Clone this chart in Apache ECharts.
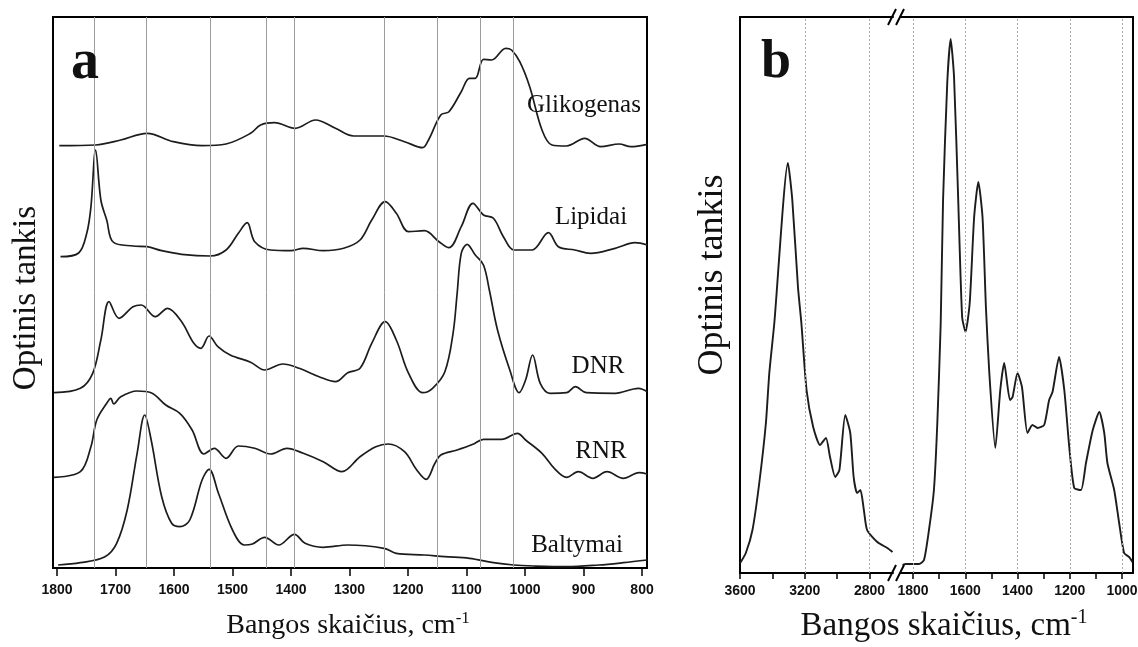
<!DOCTYPE html>
<html>
<head>
<meta charset="utf-8">
<script src="https://cdn.jsdelivr.net/npm/echarts@6/dist/echarts.min.js"></script>
<style>
html, body { margin: 0; padding: 0; background: #fff; }
#chart { width: 1138px; height: 647px; }
</style>
</head>
<body>
<div id="chart"></div>
<script>
// ---- Panel a: FTIR spectra of cell components, [wavenumber cm-1, relative absorbance] ----
const glikogenas = [[1796,0.3],[1734,1],[1691,6],[1646,12.7],[1601,4.3],[1552,0.3],[1511,2],[1469,12.7],[1452,21],[1428,23.3],[1393,17.7],[1358,26],[1324,17.7],[1293,10],[1241,10],[1206,4.3],[1175,-1.7],[1165,6],[1144,31],[1130,34.3],[1109,54.3],[1095,67.7],[1085,67.7],[1071,86.7],[1057,86],[1033,97.7],[1023,96],[1009,84.3],[992,59.3],[971,16],[954,1],[929,0],[898,7.7],[871,-0.7],[839,2],[819,-0.7],[791,1.7]];
const lipidai = [[1794,-1.7],[1763,2],[1749,22],[1742,48],[1734,105],[1725,55],[1715,35],[1704,13],[1670,9],[1646,8.3],[1621,4.3],[1587,0.7],[1538,-1],[1511,5],[1490,21.7],[1475,32.3],[1462,13.3],[1435,5],[1400,4.3],[1379,6.7],[1345,4.3],[1310,6.7],[1282,15],[1262,35],[1239,53.3],[1220,41.7],[1199,23.3],[1172,24.3],[1147,13.3],[1130,7.3],[1109,28.3],[1089,51.7],[1071,40],[1054,36.7],[1037,18.3],[1019,5],[988,5],[960,22.3],[943,8.3],[915,5],[888,1.7],[846,6.7],[812,12.3],[791,10]];
const dnr = [[1805,0.3],[1760,4.7],[1739,19.7],[1725,53],[1711,91.3],[1694,74.7],[1670,86.3],[1656,88],[1632,76.3],[1611,84.7],[1587,71.3],[1566,49.7],[1554,44.7],[1540,57],[1525,46.3],[1504,38],[1469,30.7],[1445,23],[1414,29],[1386,24.7],[1352,16.3],[1324,11.3],[1303,20.3],[1282,24.7],[1262,49.7],[1239,71.3],[1220,53],[1199,19.7],[1175,0.3],[1158,4.7],[1137,21.3],[1123,59.7],[1116,99.7],[1109,139.7],[1099,148.7],[1085,138],[1071,128],[1061,103],[1047,63],[1026,23],[1010,0.3],[999,13],[987,38],[974,9.7],[957,-0.3],[929,0.3],[914,6.3],[895,0.3],[846,-0.3],[806,4.7],[791,1.3]];
const rnr = [[1805,-0.3],[1760,5.3],[1742,30.3],[1732,57],[1715,73.7],[1708,78.7],[1703,73],[1691,80.3],[1663,86],[1639,84.3],[1614,72],[1590,63.7],[1569,47],[1549,23],[1531,28.7],[1511,18.7],[1490,31],[1462,28.7],[1435,23],[1407,28.7],[1379,23.7],[1345,15.3],[1313,5.3],[1282,20.3],[1255,30.3],[1234,33],[1206,25.3],[1185,7],[1169,-2.3],[1154,13.7],[1144,22],[1116,27],[1089,32.7],[1071,37.7],[1040,37.7],[1013,43.7],[999,37],[971,23.7],[950,8.7],[929,-0.3],[909,5.3],[884,-1.3],[860,5.3],[832,-1.3],[805,4.3],[791,3]];
const baltymai = [[1798,1],[1760,3.3],[1718,9.3],[1698,22.7],[1680,56],[1663,112.7],[1650,151],[1639,126],[1621,69.3],[1604,42.7],[1590,39.3],[1573,46],[1552,86],[1540,96.7],[1524,72.7],[1500,36],[1480,21],[1466,22],[1445,28.7],[1421,21],[1394,31.7],[1376,22.7],[1345,18.7],[1303,21],[1241,17.7],[1220,12.7],[1172,11],[1137,9.3],[1095,7.7],[1054,3.3],[1019,1],[985,0],[929,-0.7],[874,1],[832,3.3],[791,6]];

const componentNames = ['Glikogenas', 'Lipidai', 'DNR', 'RNR', 'Baltymai'];
const componentSpectra = [glikogenas, lipidai, dnr, rnr, baltymai];
const stackOffsets = [422, 313, 175, 91, 2];          // vertical shift of each stacked spectrum
const bandLinesA = [1736, 1648, 1538, 1442, 1395, 1240, 1150, 1076, 1020];
const ticksA = [1800, 1700, 1600, 1500, 1400, 1300, 1200, 1100, 1000, 900, 800];

// ---- Panel b: cell spectrum with a broken wavenumber axis ----
const spectrumHigh = [[3600,9.7],[3564,20],[3523,43],[3481,90],[3440,150],[3419,200],[3388,250],[3304,410],[3277,373],[3242,286],[3221,250],[3189,183],[3148,146],[3106,128],[3069,135],[3044,116],[3012,96],[2986,103],[2950,158],[2919,140],[2898,96],[2877,80],[2856,83],[2835,63],[2815,43],[2752,31],[2690,25],[2658,21]];
const spectrumLow = [[1840,8],[1828,9],[1777,9],[1758,13],[1739,43],[1720,83],[1707,150],[1694,250],[1685,373],[1669,490],[1656,534],[1643,496],[1627,373],[1612,256],[1599,241],[1583,270],[1566,356],[1550,391],[1534,356],[1521,266],[1508,200],[1485,125],[1466,183],[1451,210],[1429,173],[1419,176],[1400,200],[1383,186],[1362,140],[1343,148],[1323,145],[1298,148],[1279,173],[1266,181],[1241,216],[1221,183],[1202,126],[1183,85],[1157,83],[1138,110],[1112,143],[1087,161],[1068,140],[1056,110],[1030,83],[1011,50],[992,20],[973,16],[960,11]];
const ticksBHigh = [3600, 3400, 3200, 3000, 2800];
const labelsBHigh = [3600, 3200, 2800];
const ticksBLow = [1800, 1700, 1600, 1500, 1400, 1300, 1200, 1100, 1000];
const labelsBLow = [1800, 1600, 1400, 1200, 1000];
const gridLinesBHigh = [3200, 2800];
const gridLinesBLow = [1800, 1600, 1400, 1200, 1000];

const SERIF = '"Liberation Serif", "DejaVu Serif", serif';
const SANS = '"Liberation Sans", Arial, sans-serif';
const INK = '#1c1c1c';

const frameLine = { show: true, onZero: false, lineStyle: { color: '#000', width: 2 } };
const tickLabel = (vals, margin) => ({
  customValues: vals, margin, color: '#111',
  fontFamily: SANS, fontWeight: 'bold', fontSize: 14,
  formatter: (v) => String(v)
});
const tickMarks = (vals, len) => ({
  show: true, customValues: vals, length: len, inside: false,
  lineStyle: { color: '#000', width: 1.5 }
});
const bareAxis = { axisTick: { show: false }, axisLabel: { show: false }, splitLine: { show: false } };

const chart = echarts.init(document.getElementById('chart'), null, { renderer: 'canvas' });

const lineSeries = (name, data, xi, yi, smooth, extra) => Object.assign({
  name, type: 'line', data, xAxisIndex: xi, yAxisIndex: yi,
  showSymbol: false, smooth, silent: true, z: 3,
  lineStyle: { color: INK, width: 1.7 }
}, extra || {});

const vLines = (vals, style) => ({
  silent: true, symbol: ['none', 'none'], animation: false,
  label: { show: false }, lineStyle: style,
  emphasis: { disabled: true },
  data: vals.map(v => ({ xAxis: v }))
});

const seriesA = componentSpectra.map((spec, i) =>
  lineSeries(componentNames[i], spec.map(([w, a]) => [w, a + stackOffsets[i]]), 0, 0, 0.35,
    i === 0 ? { markLine: vLines(bandLinesA, { color: '#9c9c9c', width: 1, type: 'solid' }) } : null));

const dotted = { color: '#a8a8a8', width: 1, type: [2, 2] };

const option = {
  animation: false,
  backgroundColor: '#fff',
  grid: [
    { left: 53, top: 17, width: 594, height: 551, show: true, borderColor: '#000', borderWidth: 2, outerBoundsMode: 'none' },
    { left: 740, top: 17, width: 153, height: 556, outerBoundsMode: 'none' },
    { left: 901, top: 17, width: 232, height: 556, outerBoundsMode: 'none' }
  ],
  xAxis: [
    { type: 'value', gridIndex: 0, inverse: true, min: 791.5, max: 1806.8,
      axisLine: frameLine, axisTick: tickMarks(ticksA, 8), axisLabel: tickLabel(ticksA, 15), splitLine: { show: false } },
    { type: 'value', gridIndex: 1, inverse: true, min: 2655, max: 3600,
      axisLine: frameLine, axisTick: tickMarks(ticksBHigh, 6), axisLabel: tickLabel(labelsBHigh, 11), splitLine: { show: false } },
    Object.assign({ type: 'value', gridIndex: 1, position: 'top', inverse: true, min: 2655, max: 3600, axisLine: frameLine }, bareAxis),
    { type: 'value', gridIndex: 2, inverse: true, min: 958, max: 1846,
      axisLine: frameLine, axisTick: tickMarks(ticksBLow, 6), axisLabel: tickLabel(labelsBLow, 11), splitLine: { show: false } },
    Object.assign({ type: 'value', gridIndex: 2, position: 'top', inverse: true, min: 958, max: 1846, axisLine: frameLine }, bareAxis)
  ],
  yAxis: [
    Object.assign({ type: 'value', gridIndex: 0, min: 0, max: 551, axisLine: { show: false } }, bareAxis),
    Object.assign({ type: 'value', gridIndex: 1, min: 0, max: 556, position: 'left', axisLine: frameLine }, bareAxis),
    Object.assign({ type: 'value', gridIndex: 2, min: 0, max: 556, position: 'right', axisLine: frameLine }, bareAxis)
  ],
  series: seriesA.concat([
    lineSeries('b-high', spectrumHigh, 1, 1, 0.2, { lineStyle: { color: INK, width: 1.9 },
      markLine: vLines(gridLinesBHigh, dotted) }),
    lineSeries('b-low', spectrumLow, 3, 2, 0.2, { lineStyle: { color: INK, width: 1.9 },
      markLine: vLines(gridLinesBLow, dotted) })
  ]),
  graphic: { elements: [] }
};

// ---- text and decorations ----
const txt = (text, x, y, font, extra) => Object.assign({
  type: 'text', x, y, silent: true, z: 10,
  style: { text, font, fill: '#111', align: 'center', verticalAlign: 'middle',
           textAlign: 'center', textVerticalAlign: 'middle' }
}, extra || {});

const axisName = (x, y, size) => ({
  type: 'text', x, y, silent: true, z: 10,
  style: {
    text: '{m|Bangos skaičius, cm}{s|-1}',
    align: 'center', verticalAlign: 'middle', textAlign: 'center', textVerticalAlign: 'middle',
    rich: {
      m: { fontFamily: SERIF, fontSize: size, fill: '#111', lineHeight: size + 4 },
      s: { fontFamily: SERIF, fontSize: Math.round(size * 0.6), fill: '#111', verticalAlign: 'top', lineHeight: size + 4 }
    }
  }
});

const slash = (x1, y1, x2, y2) => ({
  type: 'line', silent: true, z: 12,
  shape: { x1, y1, x2, y2 }, style: { stroke: '#000', lineWidth: 2 }
});

option.graphic.elements = [
  txt('a', 85, 64, 'bold 56px ' + SERIF),
  txt('b', 776, 63, 'bold 54px ' + SERIF),
  txt('Glikogenas', 584, 105, '25px ' + SERIF),
  txt('Lipidai', 591, 217, '25px ' + SERIF),
  txt('DNR', 598, 366, '25px ' + SERIF),
  txt('RNR', 601, 451, '25px ' + SERIF),
  txt('Baltymai', 577, 545, '25px ' + SERIF),
  txt('Optinis tankis', 26, 298, '33px ' + SERIF, { rotation: Math.PI / 2 }),
  txt('Optinis tankis', 713, 275, '36px ' + SERIF, { rotation: Math.PI / 2 }),
  axisName(348, 626, 28),
  axisName(944, 626, 33),
  // axis break marks on the top and bottom edges of panel b
  slash(888, 25, 896, 9), slash(896, 25, 904, 9),
  slash(888, 581, 896, 565), slash(896, 581, 904, 565)
];

chart.setOption(option);
</script>
</body>
</html>
